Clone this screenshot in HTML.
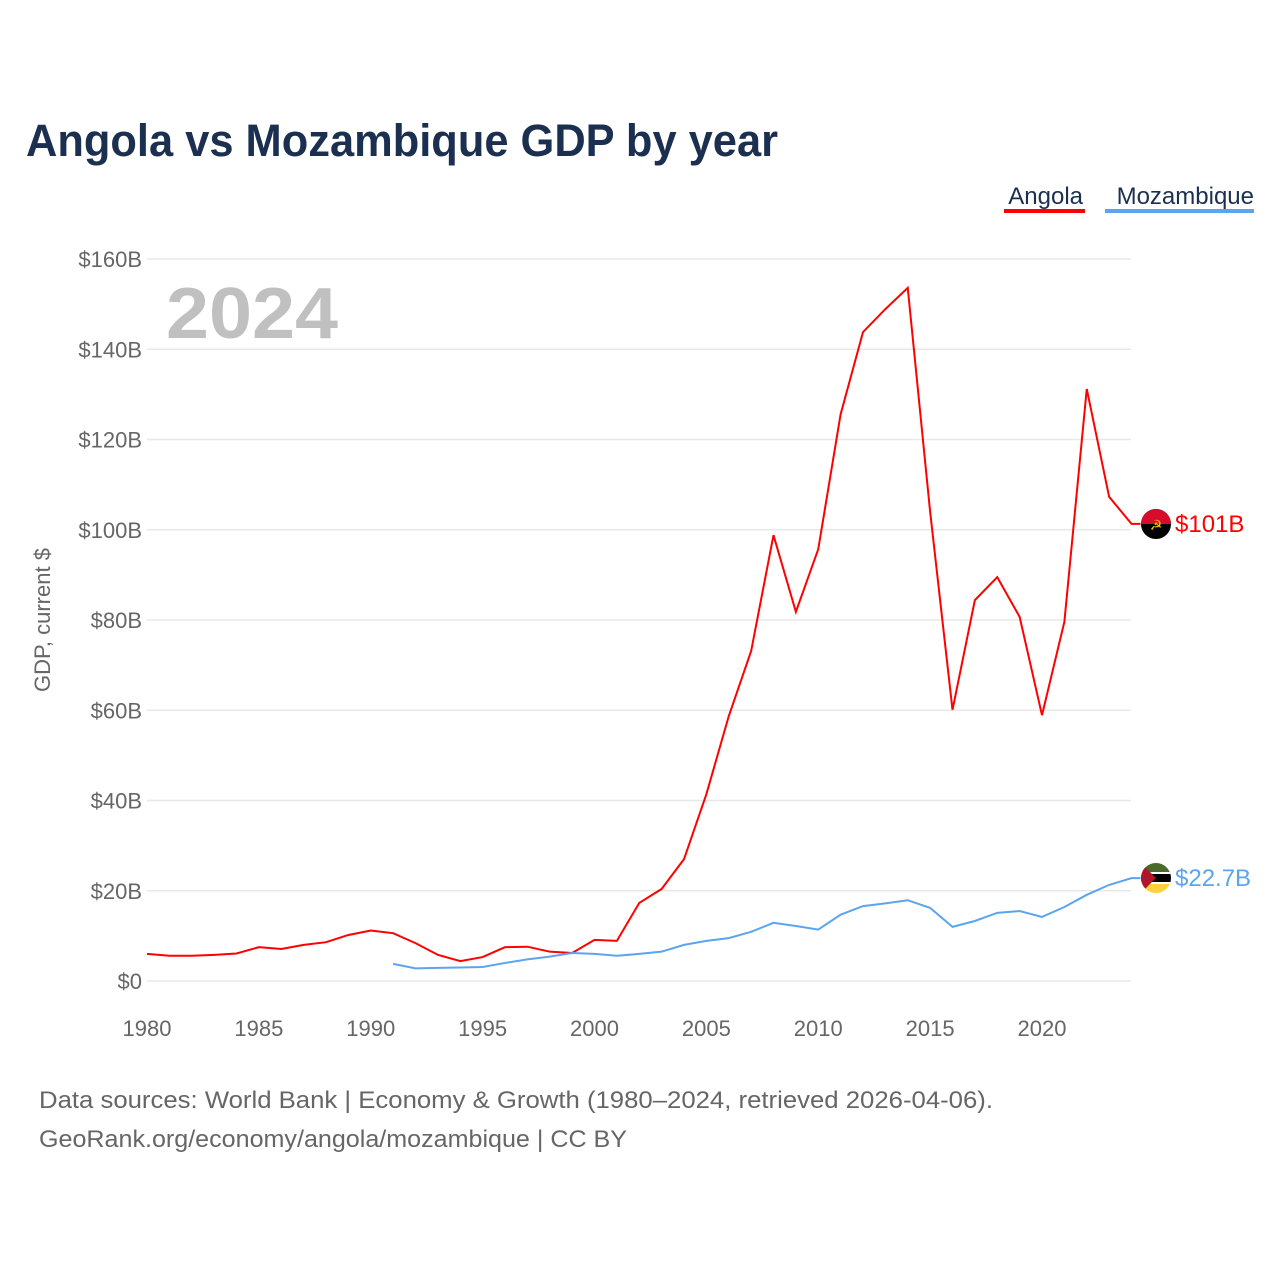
<!DOCTYPE html>
<html><head><meta charset="utf-8"><style>
body{margin:0;background:#fff;width:1280px;height:1280px;overflow:hidden;font-family:"Liberation Sans",sans-serif}
svg text{font-family:"Liberation Sans",sans-serif}
</style></head><body>
<svg id="chart" width="1280" height="1280" xmlns="http://www.w3.org/2000/svg">
<text x="26" y="156" font-size="45" font-weight="bold" fill="#1b3050" textLength="752" lengthAdjust="spacingAndGlyphs">Angola vs Mozambique GDP by year</text>
<g><text x="1083" y="204" text-anchor="end" font-size="24" fill="#1b3050">Angola</text><rect x="1004" y="209" width="81" height="4" fill="#ff0000"/></g>
<g><text x="1254" y="204" text-anchor="end" font-size="24" fill="#1b3050">Mozambique</text><rect x="1105" y="209" width="149" height="4" fill="#5aa5ee"/></g>
<text x="166" y="338" font-size="72" font-weight="bold" fill="#c0c0c0" textLength="172" lengthAdjust="spacingAndGlyphs">2024</text>
<text transform="translate(50,620) rotate(-90)" text-anchor="middle" font-size="22" fill="#666">GDP, current $</text>
<g id="grid"></g><g id="lines"></g><g id="xt"></g>
<g>
<circle cx="1156" cy="524" r="15" fill="#000"/><path d="M1141,524 A15,15 0 0 1 1171,524 Z" fill="#d80b2c"/><text x="1156" y="530" text-anchor="middle" font-size="14" fill="#f4c400">☭</text>
<text x="1175" y="532" font-size="24" fill="#ff0000">$101B</text></g>
<g>
<clipPath id="cm"><circle cx="1156" cy="878" r="15"/></clipPath>
<g clip-path="url(#cm)"><rect x="1140" y="862" width="32" height="11" fill="#4a6a2a"/><rect x="1140" y="873" width="32" height="10" fill="#000"/><rect x="1140" y="872" width="32" height="2" fill="#fff"/><rect x="1140" y="882" width="32" height="2" fill="#fff"/><rect x="1140" y="884" width="32" height="10" fill="#fcd13a"/><path d="M1140,862 L1156,878 L1140,894Z" fill="#b0162a"/></g>
<text x="1175" y="886" font-size="24" fill="#5aa5ee">$22.7B</text></g>
<text x="39" y="1108" font-size="24" fill="#666" textLength="954" lengthAdjust="spacingAndGlyphs">Data sources: World Bank | Economy &amp; Growth (1980–2024, retrieved 2026-04-06).</text>
<text x="39" y="1147" font-size="24" fill="#666" textLength="588" lengthAdjust="spacingAndGlyphs">GeoRank.org/economy/angola/mozambique | CC BY</text>
</svg>
<script>
const yTicks=[0,20,40,60,80,100,120,140,160];
const yTickLabels=["$0","$20B","$40B","$60B","$80B","$100B","$120B","$140B","$160B"];
const xTicks=[1980,1985,1990,1995,2000,2005,2010,2015,2020];
const angolaYears=[1980,1981,1982,1983,1984,1985,1986,1987,1988,1989,1990,1991,1992,1993,1994,1995,1996,1997,1998,1999,2000,2001,2002,2003,2004,2005,2006,2007,2008,2009,2010,2011,2012,2013,2014,2015,2016,2017,2018,2019,2020,2021,2022,2023,2024];
const angola=[6.0,5.6,5.6,5.8,6.1,7.5,7.1,8.0,8.6,10.2,11.2,10.6,8.4,5.8,4.4,5.3,7.5,7.6,6.5,6.2,9.1,8.9,17.3,20.4,27.0,41.4,58.7,73.1,98.8,81.8,95.7,125.6,143.8,148.9,153.6,104,60.1,84.4,89.5,80.7,58.9,79.6,131.2,107.3,101.3];
const mozYears=[1991,1992,1993,1994,1995,1996,1997,1998,1999,2000,2001,2002,2003,2004,2005,2006,2007,2008,2009,2010,2011,2012,2013,2014,2015,2016,2017,2018,2019,2020,2021,2022,2023,2024];
const mozambique=[3.8,2.8,2.9,3.0,3.1,4.0,4.8,5.4,6.2,6.0,5.6,6.0,6.5,8.0,8.9,9.5,10.9,12.9,12.2,11.4,14.7,16.6,17.2,17.9,16.2,12.0,13.3,15.1,15.5,14.2,16.4,19.1,21.3,22.8];
const NS="http://www.w3.org/2000/svg";
const xs=y=>147+(y-1980)*22.375, ys=v=>981-v*4.5125;
function mk(t,a,p){const e=document.createElementNS(NS,t);for(const k in a)e.setAttribute(k,a[k]);document.getElementById(p).appendChild(e);return e;}
yTicks.forEach((v,i)=>{
 const l=mk('line',{x1:147,x2:1131,y1:ys(v),y2:ys(v),stroke:'#e8e8e8','stroke-width':1.5},'grid');
 
 
 const t=mk('text',{x:142,y:ys(v)+8,'text-anchor':'end','font-size':22,fill:'#666'},'grid');t.textContent=yTickLabels[i];
 
 
});
xTicks.forEach(y=>{
 const t=mk('text',{x:xs(y),y:1036,'text-anchor':'middle','font-size':22,fill:'#666'},'xt');t.textContent=y;
 
 
});
const p1=mk('polyline',{points:angolaYears.map((y,i)=>xs(y)+','+ys(angola[i])).join(' ')+' '+(xs(2024)+9)+','+ys(angola[angola.length-1]),fill:'none',stroke:'#ff0000','stroke-width':2},'lines');


const p2=mk('polyline',{points:mozYears.map((y,i)=>xs(y)+','+ys(mozambique[i])).join(' ')+' '+(xs(2024)+9)+','+ys(mozambique[mozambique.length-1]),fill:'none',stroke:'#5aa5ee','stroke-width':2},'lines');


</script>
</body></html>
